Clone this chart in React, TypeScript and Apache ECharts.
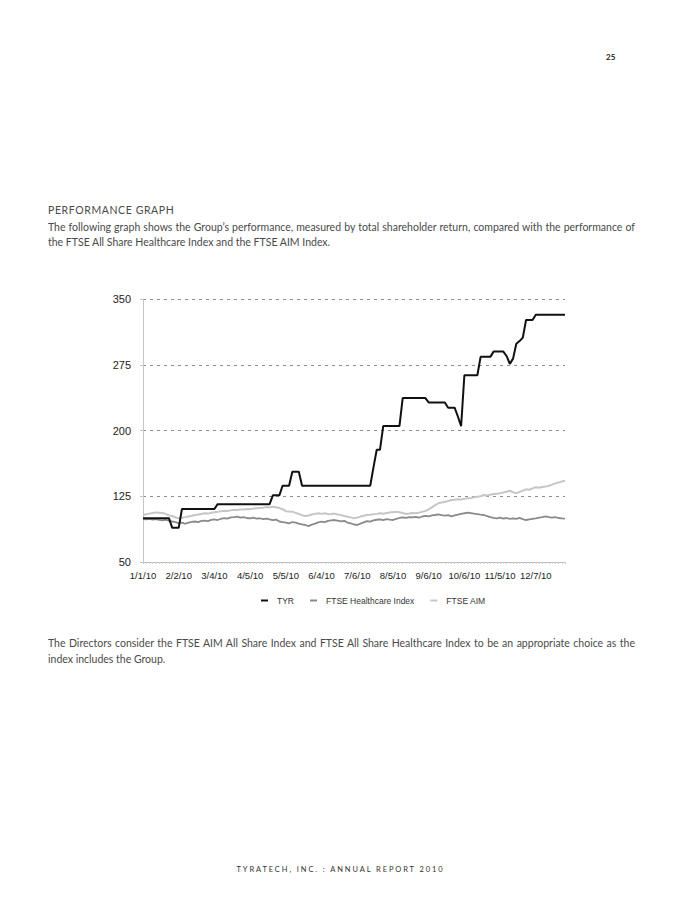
import React, { useEffect, useRef } from "react";
import * as echarts from "echarts";

const tickLabels = ["1/1/10", "2/2/10", "3/4/10", "4/5/10", "5/5/10", "6/4/10", "7/6/10", "8/5/10", "9/6/10", "10/6/10", "11/5/10", "12/7/10"];
const pointsPerLabel = 11;
const seriesNames = ["TYR", "FTSE Healthcare Index", "FTSE AIM"];
const yTicks = [50, 125, 200, 275, 350];

const tyr = [
  100, 100, 100, 100, 100, 100, 100, 100, 100, 89,
  89, 89, 110.5, 110.5, 110.5, 110.5, 110.5, 110.5, 110.5, 110.5,
  110.5, 110.5, 110.5, 116, 116, 116, 116, 116, 116, 116,
  116, 116, 116, 116, 116, 116, 116, 116, 116, 116,
  126, 126, 126, 137, 137, 137, 153, 153, 153, 137,
  137, 137, 137, 137, 137, 137, 137, 137, 137, 137,
  137, 137, 137, 137, 137, 137, 137, 137, 137, 137,
  137, 158, 178, 178, 205, 205, 205, 205, 205, 205,
  237, 237, 237, 237, 237, 237, 237, 237, 232, 232,
  232, 232, 232, 232, 226, 226, 226, 216, 205, 263,
  263, 263, 263, 263, 284, 284, 284, 284, 290, 290,
  290, 290, 285, 276, 282, 299, 302, 306, 326, 326,
  326, 332, 332, 332, 332, 332, 332, 332, 332, 332,
  332,
];

const healthcare = [
  99, 98.6, 99.2, 98.4, 98.8, 98, 97.6, 98.2, 97, 96.2,
  95.4, 94.3, 94.8, 93.6, 95, 95.8, 96.2, 95.5, 96.8, 97.2,
  96.7, 98.1, 98.7, 97.9, 99.3, 100, 99.4, 100.8, 101.2, 101.7,
  100.6, 101.3, 100.2, 99.7, 100.5, 99.4, 99.9, 98.8, 99.5, 98.7,
  97.8, 98.4, 96.2, 95.6, 94.9, 94, 95.6, 95, 93.8, 92.9,
  92.2, 91, 92.6, 93.8, 95.1, 96, 95.4, 96.9, 97.4, 97.9,
  97.1, 96.4, 96.9, 95, 94.1, 92.8, 92.2, 93.7, 95.2, 96.7,
  96.1, 97.5, 98.2, 98.6, 97.8, 98.9, 98.3, 97.9, 99.1, 100.2,
  101, 100.4, 101.3, 100.8, 101.5, 100.5, 101.9, 102.5, 102, 103.1,
  103.6, 104.2, 103.4, 102.8, 103.5, 102, 103.2, 104.1, 105, 105.6,
  106.3, 105.7, 105.1, 104.6, 104, 103.6, 102.4, 101.2, 100.3, 99.8,
  100.6, 99.5, 100.2, 99.1, 99.8, 99.3, 100.4, 98.9, 97.9, 98.6,
  99.3, 99.8, 100.7, 101.2, 102, 101.1, 100.5, 101.3, 100.2, 99.7,
  99.4,
];

const aim = [
  103.6, 104.5, 105.2, 105.9, 106.6, 106.3, 105.8, 104.9, 103.2, 102.5,
  100.8, 99.9, 100.6, 101.2, 102, 102.8, 103.5, 104.1, 104.8, 105.5,
  105.2, 106.1, 106.8, 107.3, 107.9, 108.5, 108.1, 108.9, 109.5, 109.2,
  109.9, 109.8, 110.4, 110.1, 110.9, 111.3, 111.7, 112, 112.6, 112.3,
  113, 112.5, 111.5, 110.2, 108, 107.6, 107.4, 106.1, 104.8, 103.4,
  102.5, 103.1, 104.2, 104.9, 105.5, 104.9, 105.7, 104.6, 104.8, 105.2,
  104.1, 103.5, 102.5, 101.6, 100.9, 99.8, 100.6, 101.8, 102.7, 103.6,
  103.9, 104.4, 104.9, 105.5, 105.1, 106, 106.5, 106.9, 107.4, 106.8,
  105.9, 104.8, 105.3, 105.9, 105.6, 106.3, 107.2, 108.1, 110, 112.4,
  114.8, 117, 117.9, 118.8, 119.6, 120.7, 120.9, 121.5, 121.2, 122,
  122.6, 123.1, 123.8, 124.4, 125, 126.4, 125.9, 126.7, 127.5, 127.9,
  128.3, 129.4, 130.1, 131.3, 129.6, 128.3, 130, 131.4, 132.9, 132.4,
  134, 135.2, 134.8, 135.5, 136, 136.9, 138.2, 139.7, 140.6, 141.9,
  142.7,
];

const bodyFont = "Lato, 'Open Sans', sans-serif";

function Chart() {
  const ref = useRef<HTMLDivElement | null>(null);
  useEffect(() => {
    if (!ref.current) return;
    const chart = echarts.init(ref.current, null, { renderer: "svg" });
    const categories = tyr.map((_, i) => "p" + i);
    const labelFor = (_v: string, i: number) =>
      i % pointsPerLabel === 0 && tickLabels[i / pointsPerLabel] !== undefined ? tickLabels[i / pointsPerLabel] : "";
    chart.setOption({
      animation: false,
      backgroundColor: "transparent",
      grid: { left: 143, right: 116, top: 299, bottom: 345, containLabel: false },
      legend: {
        data: seriesNames,
        left: 256,
        top: 591,
        icon: "rect",
        itemWidth: 7,
        itemHeight: 2,
        itemGap: 16,
        textStyle: { fontFamily: "Arial, 'Liberation Sans'", fontSize: 8.5, color: "#333", padding: [0, 0, 0, 4] },
      },
      xAxis: {
        type: "category",
        data: categories,
        boundaryGap: false,
        axisLine: { show: true, lineStyle: { color: "#bdbdbd", width: 1 } },
        axisTick: { show: true, interval: 0, length: 2, lineStyle: { color: "#cfcfcf" } },
        axisLabel: {
          interval: 0,
          formatter: labelFor,
          margin: 8,
          fontFamily: "Arial, 'Liberation Sans'",
          fontSize: 9.5,
          color: "#222",
        },
        splitLine: { show: false },
      },
      yAxis: {
        type: "value",
        min: 50,
        max: 350,
        axisLine: { show: true, lineStyle: { color: "#c4c4c4", width: 1 } },
        axisTick: { show: true, length: 3, customValues: yTicks, lineStyle: { color: "#c4c4c4" } },
        axisLabel: {
          customValues: yTicks,
          margin: 12,
          fontFamily: "Arial, 'Liberation Sans'",
          fontSize: 11,
          color: "#222",
        },
        splitLine: { show: true, lineStyle: { color: "#8c8c8c", type: [3, 4], width: 1 } },
      },
      series: [
        {
          name: seriesNames[0],
          type: "line",
          data: tyr,
          showSymbol: false,
          z: 4,
          itemStyle: { color: "#111" },
          lineStyle: { color: "#111", width: 2 },
        },
        {
          name: seriesNames[1],
          type: "line",
          data: healthcare,
          showSymbol: false,
          z: 3,
          itemStyle: { color: "#8a8a8a" },
          lineStyle: { color: "#8a8a8a", width: 1.8 },
        },
        {
          name: seriesNames[2],
          type: "line",
          data: aim,
          showSymbol: false,
          z: 2,
          itemStyle: { color: "#c6c6c6" },
          lineStyle: { color: "#c6c6c6", width: 2 },
        },
      ],
    });
    return () => chart.dispose();
  }, []);
  return <div ref={ref} style={{ position: "absolute", left: 0, top: 0, width: 681, height: 907 }} />;
}

const lineStyle: React.CSSProperties = {
  position: "absolute",
  left: 48,
  width: 587,
  fontFamily: bodyFont,
  fontSize: 10.5,
  lineHeight: "16px",
  color: "#4a4a4a",
  whiteSpace: "nowrap",
};
const justified: React.CSSProperties = { textAlign: "justify", textAlignLast: "justify" as any, whiteSpace: "normal" };

export default function App() {
  return (
    <div style={{ position: "absolute", left: 0, top: 0, width: 681, height: 907, background: "#fff", overflow: "hidden" }}>
      <Chart />
      <div style={{ position: "absolute", left: 606, top: 52, fontFamily: bodyFont, fontSize: 8, fontWeight: 700, color: "#222" }}>25</div>
      <div style={{ ...lineStyle, top: 202, letterSpacing: 0.6 }}>PERFORMANCE GRAPH</div>
      <div style={{ ...lineStyle, ...justified, top: 219 }}>
        The following graph shows the Group’s performance, measured by total shareholder return, compared with the performance of
      </div>
      <div style={{ ...lineStyle, top: 234 }}>the FTSE All Share Healthcare Index and the FTSE AIM Index.</div>
      <div style={{ ...lineStyle, ...justified, top: 635 }}>
        The Directors consider the FTSE AIM All Share Index and FTSE All Share Healthcare Index to be an appropriate choice as the
      </div>
      <div style={{ ...lineStyle, top: 651 }}>index includes the Group.</div>
      <div
        style={{
          position: "absolute",
          left: 0,
          width: 681,
          top: 864,
          textAlign: "center",
          fontFamily: bodyFont,
          fontSize: 7.5,
          letterSpacing: 1.9,
          color: "#333",
          lineHeight: "12px",
        }}
      >
        TYRATECH, INC. : ANNUAL REPORT 2010
      </div>
    </div>
  );
}
